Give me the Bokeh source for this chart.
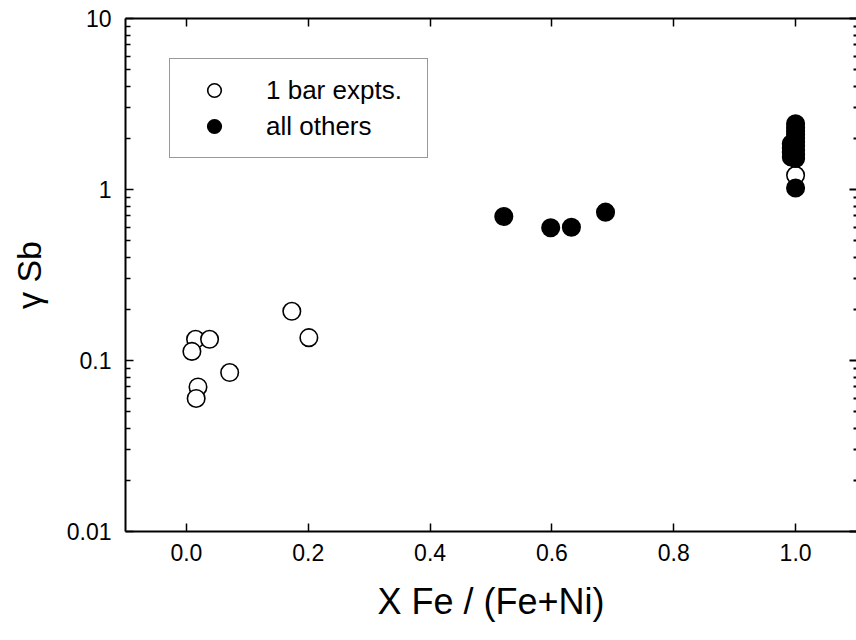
from bokeh.plotting import figure
from bokeh.models import (ColumnDataSource, LogAxis, LinearAxis, FixedTicker,
                          Legend, LegendItem, Range1d, PrintfTickFormatter,
                          CustomJSTickFormatter)
from bokeh.embed import file_html
from bokeh.resources import INLINE

# ---- data ----
open_x = [0.173, 0.201, 0.015, 0.038, 0.009, 0.071, 0.019, 0.016, 1.0]
open_y = [0.194, 0.136, 0.133, 0.133, 0.113, 0.085, 0.070, 0.060, 1.21]

filled_x = [0.521, 0.598, 0.632, 0.688,
            1.0, 1.0, 1.0, 1.0, 1.0, 1.0, 1.0, 1.0, 1.0, 1.0, 1.0,
            0.993, 0.993, 0.993, 0.993]
filled_y = [0.695, 0.597, 0.602, 0.737,
            2.42, 2.3, 2.2, 2.1, 2.0, 1.9, 1.8, 1.7, 1.6, 1.52, 1.02,
            1.85, 1.75, 1.65, 1.55]

x_ticks = [0.0, 0.2, 0.4, 0.6, 0.8, 1.0]
y_ticks = [0.01, 0.1, 1, 10]
y_minor = [m * d for d in [0.01, 0.1, 1] for m in range(2, 10)]

legend_labels = ["1 bar expts.", "all others"]
x_label = "X Fe / (Fe+Ni)"
y_label = "\u03b3 Sb"

FONT = "Liberation Sans"

p = figure(width=856, height=640, output_backend="svg", toolbar_location=None,
           y_axis_type="log", x_range=Range1d(-0.1, 1.1), y_range=Range1d(0.01, 10),
           min_border_left=125, min_border_right=0, min_border_top=18,
           min_border_bottom=109)
p.background_fill_color = "white"
p.border_fill_color = "white"
p.outline_line_color = None
p.xgrid.visible = False
p.ygrid.visible = False

blank = CustomJSTickFormatter(code="return ''")

# bottom axis
xa = p.xaxis[0]
xa.ticker = FixedTicker(ticks=x_ticks)
xa.formatter = PrintfTickFormatter(format="%.1f")
xa.axis_line_width = 2
xa.axis_line_color = "black"
xa.major_tick_in = 8
xa.major_tick_out = 0
xa.major_tick_line_width = 1.5
xa.minor_tick_in = 0
xa.minor_tick_out = 0
xa.major_label_text_font = FONT
xa.major_label_text_font_size = "23px"
xa.major_label_text_color = "black"
xa.major_label_standoff = 12
xa.axis_label = x_label
xa.axis_label_text_font = FONT
xa.axis_label_text_font_size = "36px"
xa.axis_label_text_font_style = "normal"
xa.axis_label_text_color = "black"
xa.axis_label_standoff = 17

# left axis
ya = p.yaxis[0]
ya.ticker = FixedTicker(ticks=y_ticks, minor_ticks=y_minor)
ya.formatter = PrintfTickFormatter(format="%g")
ya.axis_line_width = 2
ya.axis_line_color = "black"
ya.major_tick_in = 8
ya.major_tick_out = 0
ya.major_tick_line_width = 1.5
ya.minor_tick_in = 5
ya.minor_tick_out = 0
ya.minor_tick_line_width = 1.5
ya.major_label_text_font = FONT
ya.major_label_text_font_size = "23px"
ya.major_label_text_color = "black"
ya.major_label_standoff = 14
ya.axis_label = y_label
ya.axis_label_text_font = FONT
ya.axis_label_text_font_size = "34px"
ya.axis_label_text_font_style = "normal"
ya.axis_label_text_color = "black"
ya.axis_label_standoff = 16

# top axis (ticks only)
ta = LinearAxis(ticker=FixedTicker(ticks=x_ticks), formatter=blank,
                axis_line_width=2, axis_line_color="black",
                major_tick_in=8, major_tick_out=0, major_tick_line_width=1.5,
                minor_tick_in=0, minor_tick_out=0, major_label_standoff=0)
p.add_layout(ta, "above")

# right axis (ticks only, frame edge lies outside the window)
ra = LogAxis(ticker=FixedTicker(ticks=y_ticks, minor_ticks=y_minor),
             formatter=blank, axis_line_color=None,
             major_tick_in=7, major_tick_out=0, major_tick_line_width=2,
             minor_tick_in=3, minor_tick_out=0, minor_tick_line_width=2,
             major_label_standoff=0)
p.add_layout(ra, "right")

src_open = ColumnDataSource(dict(x=open_x, y=open_y))
src_filled = ColumnDataSource(dict(x=filled_x, y=filled_y))

r_open = p.scatter("x", "y", source=src_open, marker="circle", size=17.5,
                   fill_color="white", line_color="black", line_width=1.6)
r_filled = p.scatter("x", "y", source=src_filled, marker="circle", size=17.5,
                     fill_color="black", line_color="black", line_width=1.6)

legend = Legend(items=[LegendItem(label=legend_labels[0], renderers=[r_open]),
                       LegendItem(label=legend_labels[1], renderers=[r_filled])],
                location=(44, 373), orientation="vertical",
                padding=14, spacing=2, margin=0,
                glyph_width=60, glyph_height=34, label_height=34,
                label_width=147, label_standoff=22,
                label_text_font=FONT, label_text_font_size="26px",
                label_text_color="black",
                border_line_color="#333333", border_line_width=1,
                background_fill_color="white", background_fill_alpha=1.0)
p.add_layout(legend, "center")

open("out.html", "w").write(file_html(p, INLINE))
